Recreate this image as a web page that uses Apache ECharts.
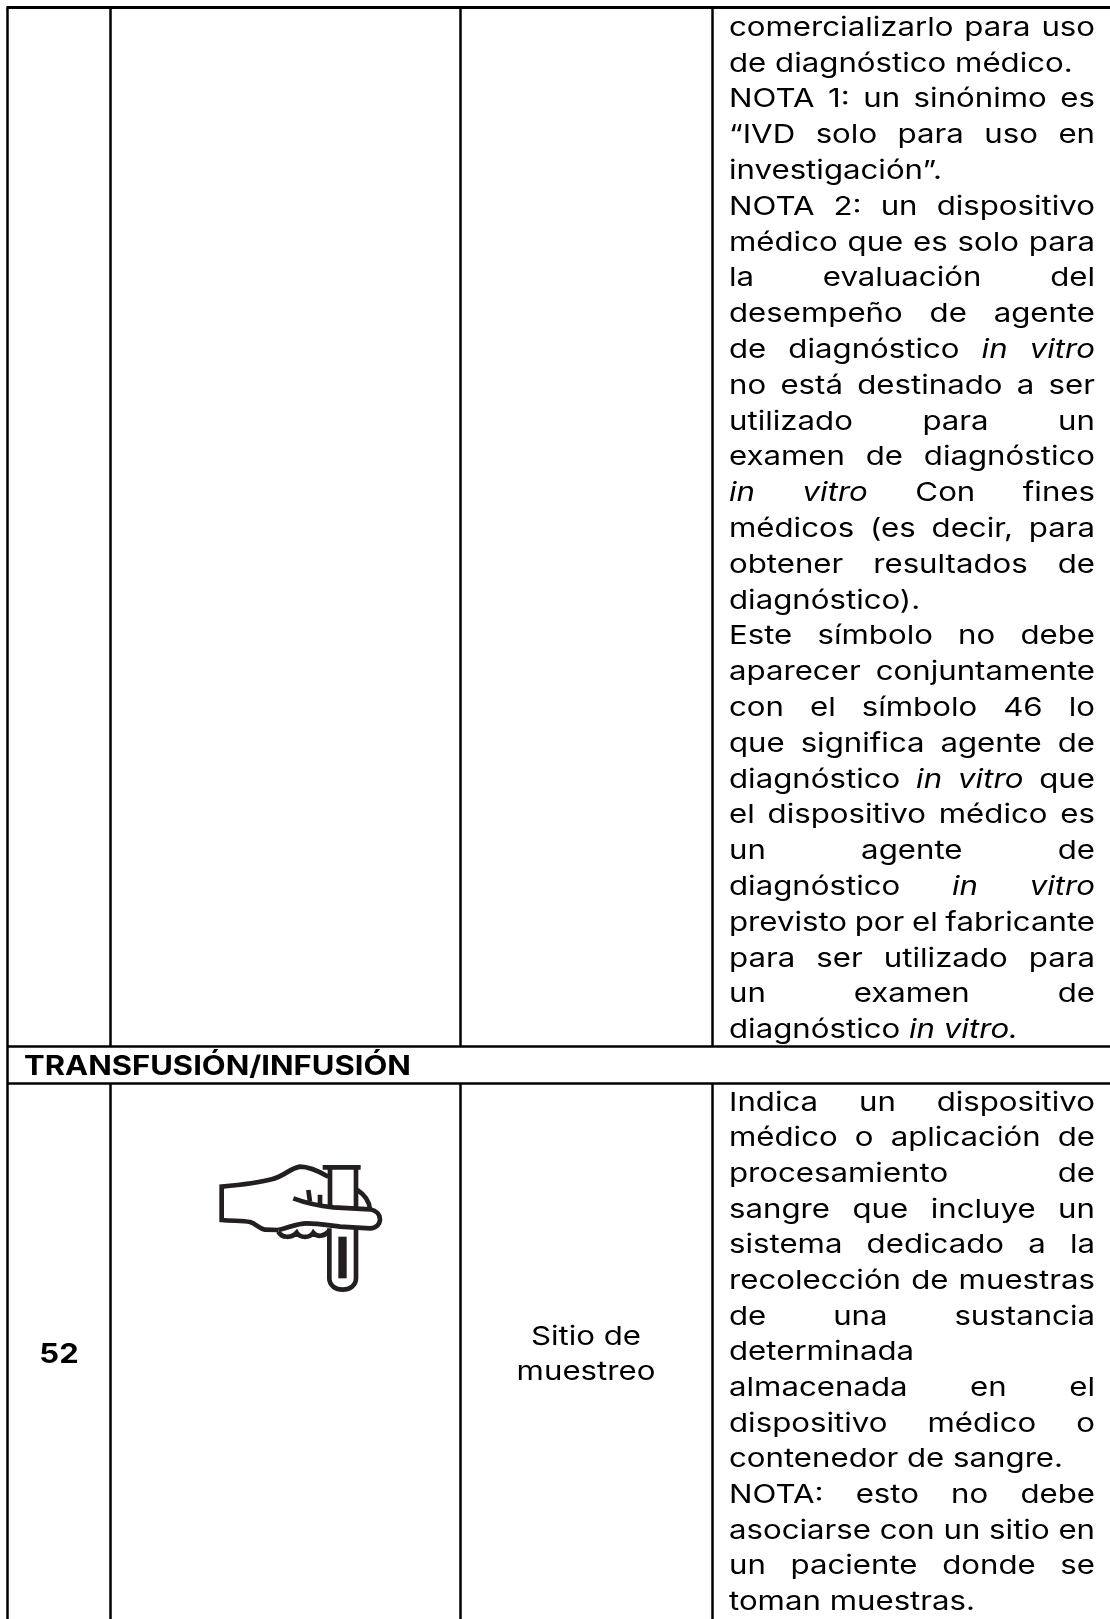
<!DOCTYPE html>
<html>
<head>
<meta charset="utf-8">
<style>
  html, body { margin: 0; padding: 0; background: #fff; }
  #chart { width: 1110px; height: 1619px; }
</style>
<script src="https://cdn.jsdelivr.net/npm/echarts@6/dist/echarts.min.js"></script>
</head>
<body>
<div id="chart"></div>
<script>
  // *...* marks italics, a trailing | means the line is set flush left (end of paragraph)
  const upperLines = [
    'comercializarlo para uso', 'de diagnóstico médico.|', 'NOTA 1: un sinónimo es',
    '“IVD solo para uso en', 'investigación”.|', 'NOTA 2: un dispositivo',
    'médico que es solo para', 'la evaluación del', 'desempeño de agente',
    'de diagnóstico *in* *vitro*', 'no está destinado a ser', 'utilizado para un',
    'examen de diagnóstico', '*in* *vitro* Con fines', 'médicos (es decir, para',
    'obtener resultados de', 'diagnóstico).|', 'Este símbolo no debe',
    'aparecer conjuntamente', 'con el símbolo 46 lo', 'que significa agente de',
    'diagnóstico *in* *vitro* que', 'el dispositivo médico es', 'un agente de',
    'diagnóstico *in* *vitro*', 'previsto por el fabricante', 'para ser utilizado para',
    'un examen de', 'diagnóstico *in* *vitro*.|'
  ];
  const lowerLines = [
    'Indica un dispositivo', 'médico o aplicación de', 'procesamiento de',
    'sangre que incluye un', 'sistema dedicado a la', 'recolección de muestras',
    'de una sustancia', 'determinada|', 'almacenada en el',
    'dispositivo médico o', 'contenedor de sangre.|', 'NOTA: esto no debe',
    'asociarse con un sitio en', 'un paciente donde se', 'toman muestras.|'
  ];
  const sectionTitle = 'TRANSFUSIÓN/INFUSIÓN';
  const rowNumber = '52';
  const symbolName = ['Sitio de', 'muestreo'];

  const FONT = 'Inter, sans-serif';
  const TEXT_SIZE = 26;
  // the original face is wider than anything installed, so words get stretched
  const TEXT_STRETCH = 1.2;
  const BOLD_STRETCH = 1.147;
  const colX = [7.5, 110.5, 460.5, 712.5, 1110];
  const rowY = [7.5, 1046.5, 1083.5, 1619];
  const textLeft = 729;
  const textRight = 1095;

  const measure = document.createElement('canvas').getContext('2d');

  function fontOf(italic) {
    return (italic ? 'italic ' : '') + TEXT_SIZE + 'px ' + FONT;
  }

  function lineEl(x1, y1, x2, y2, width) {
    return { type: 'line', shape: { x1, y1, x2, y2 }, style: { stroke: '#000', lineWidth: width } };
  }

  function textEl(x, y, text, font, stretch, align) {
    return {
      type: 'text',
      x,
      y,
      scaleX: stretch,
      style: { x: 0, y: 0, text, font, fill: '#000', textAlign: align || 'left', textVerticalAlign: 'middle' }
    };
  }

  // one text element per word so the column can be justified like the original
  function layoutLines(lines, firstY, step) {
    const out = [];
    lines.forEach((raw, i) => {
      const flush = raw.endsWith('|');
      const words = raw.replace('|', '').split(' ').map((w) => {
        const italic = w.includes('*');
        return { text: w.replace(/\*/g, ''), italic };
      });
      measure.font = fontOf(false);
      const space = measure.measureText(' ').width * TEXT_STRETCH;
      let total = 0;
      words.forEach((w) => {
        measure.font = fontOf(w.italic);
        w.width = measure.measureText(w.text).width * TEXT_STRETCH;
        total += w.width;
      });
      const gap = flush || words.length < 2
        ? space
        : (textRight - textLeft - total) / (words.length - 1);
      let x = textLeft;
      const y = firstY + i * step;
      words.forEach((w) => {
        out.push(textEl(x, y, w.text, fontOf(w.italic), TEXT_STRETCH));
        x += w.width + gap;
      });
    });
    return out;
  }

  const iconStrokes = [
    // back of the hand and wrist
    'M385 170 C350 150 325 140 300 140 C270 145 250 170 215 178 C170 190 120 195 65 200 L65 300 C100 303 130 302 150 306 C170 312 175 325 195 329 L235 330',
    // thumb
    'M280 235 C320 250 360 258 400 262 L510 268 C530 272 540 285 540 298 C540 312 528 325 510 325 L420 320 C380 315 350 310 320 310 C290 310 270 322 235 330',
    // fingers
    'M235 335 C245 355 275 355 290 338 C300 355 330 355 340 338 C350 350 370 352 385 335',
    // creases
    'M325 210 L330 245 M360 224 L360 252',
    // tube
    'M368 142 L482 142 M390 145 L390 255 M468 145 L468 262 M388 325 L388 475 C388 520 468 520 468 475 L468 322',
    // back of the thumb
    'M472 210 C495 225 508 245 510 268'
  ];
  const iconFill = 'M415 350 L440 350 L440 475 L415 475 Z';

  function renderIcon() {
    const children = iconStrokes.map((d) => ({
      type: 'path',
      shape: { pathData: d },
      style: { fill: 'none', stroke: '#231f20', lineWidth: 14 }
    }));
    children.push({ type: 'path', shape: { pathData: iconFill }, style: { fill: '#231f20' } });
    return { type: 'group', x: 200, y: 1120, scaleX: 1 / 3, scaleY: 1 / 3, children };
  }

  const graphics = [];
  // frame and grid
  graphics.push(lineEl(colX[0] - 1, rowY[0], colX[4], rowY[0], 3));
  graphics.push(lineEl(colX[0], rowY[0], colX[0], rowY[3], 2.5));
  graphics.push(lineEl(colX[0], rowY[1], colX[4], rowY[1], 2.5));
  graphics.push(lineEl(colX[0], rowY[2], colX[4], rowY[2], 2.5));
  [1, 2, 3].forEach((c) => {
    graphics.push(lineEl(colX[c], rowY[0], colX[c], rowY[1], 2.5));
    graphics.push(lineEl(colX[c], rowY[2], colX[c], rowY[3], 2.5));
  });

  graphics.push(...layoutLines(upperLines, 28, 35.8));
  graphics.push(...layoutLines(lowerLines, 1103, 35.65));

  graphics.push(textEl(24, 1067, sectionTitle, 'bold 27px ' + FONT, BOLD_STRETCH));
  graphics.push(textEl(59, 1355, rowNumber, 'bold 27px ' + FONT, BOLD_STRETCH, 'center'));
  symbolName.forEach((t, i) => {
    graphics.push(textEl(586, 1337 + i * 35, t, fontOf(false), TEXT_STRETCH, 'center'));
  });

  const chartInstance = echarts.init(document.getElementById('chart'), null, { renderer: 'canvas' });
  chartInstance.setOption({
    animation: false,
    backgroundColor: '#fff',
    graphic: { elements: graphics },
    series: [{ type: 'custom', coordinateSystem: 'none', renderItem: renderIcon, data: [[0]], silent: true }]
  });
</script>
</body>
</html>
